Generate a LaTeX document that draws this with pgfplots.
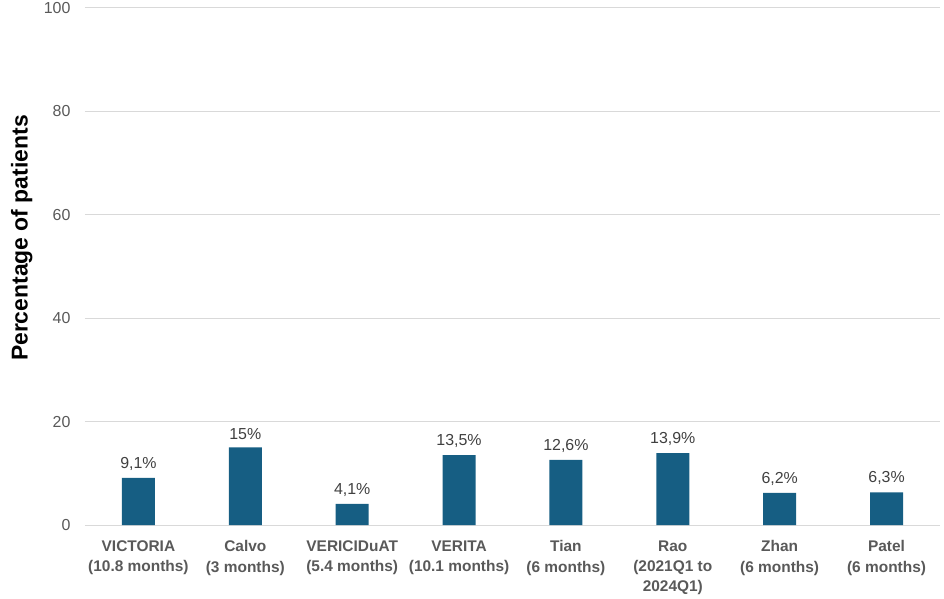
\documentclass[border=0pt]{standalone}
\usepackage{pgfplots}
\pgfplotsset{compat=1.18}
\usepackage{fontspec}
\setmainfont{Liberation Sans}
\definecolor{barblue}{RGB}{22,94,131}
\definecolor{gridgray}{RGB}{217,217,217}
\definecolor{ticktxt}{RGB}{89,89,89}
\definecolor{valtxt}{RGB}{64,64,64}
\begin{document}
\begin{tikzpicture}
\begin{axis}[
    scale only axis,
    width=855bp, height=517bp,
    ybar, bar width=33bp,
    xmin=-0.5, xmax=7.5,
    ymin=0, ymax=100,
    ytick={0,20,40,60,80,100},
    xtick=data,
    xticklabels={{VICTORIA\\(10.8 months)},{Calvo\\(3 months)},{VERICIDuAT\\(5.4 months)},{VERITA\\(10.1 months)},{Tian\\(6 months)},{Rao\\(2021Q1 to\\2024Q1)},{Zhan\\(6 months)},{Patel\\(6 months)}},
    xticklabel style={align=center, font=\fontsize{15.5}{20.5}\selectfont\bfseries, text=ticktxt, yshift=-12bp},
    yticklabel style={font=\fontsize{16}{18}\selectfont, text=ticktxt, xshift=-11bp},
    /pgf/number format/assume math mode=true,
    ymajorgrids,
    grid style={gridgray, line width=1bp},
    axis line style={draw=none},
    major tick length=0pt,
    ylabel={Percentage of patients},
    ylabel style={font=\fontsize{23}{26}\selectfont\bfseries, at={(axis description cs:-0.074,0.555)}, anchor=center, rotate=0},
    nodes near coords={\pgfmathprintnumber[use comma]{\pgfplotspointmeta}\%},
    nodes near coords style={font=\fontsize{16}{18}\selectfont, text=valtxt, /pgf/number format/assume math mode=true, yshift=4bp},
]
\addplot[fill=barblue, draw=none] coordinates {
(0,9.1) (1,15) (2,4.1) (3,13.5) (4,12.6) (5,13.9) (6,6.2) (7,6.3)
};
\end{axis}
\pgfresetboundingbox
\path (-85bp,-74bp) rectangle (859bp,525bp);
\end{tikzpicture}
\end{document}
